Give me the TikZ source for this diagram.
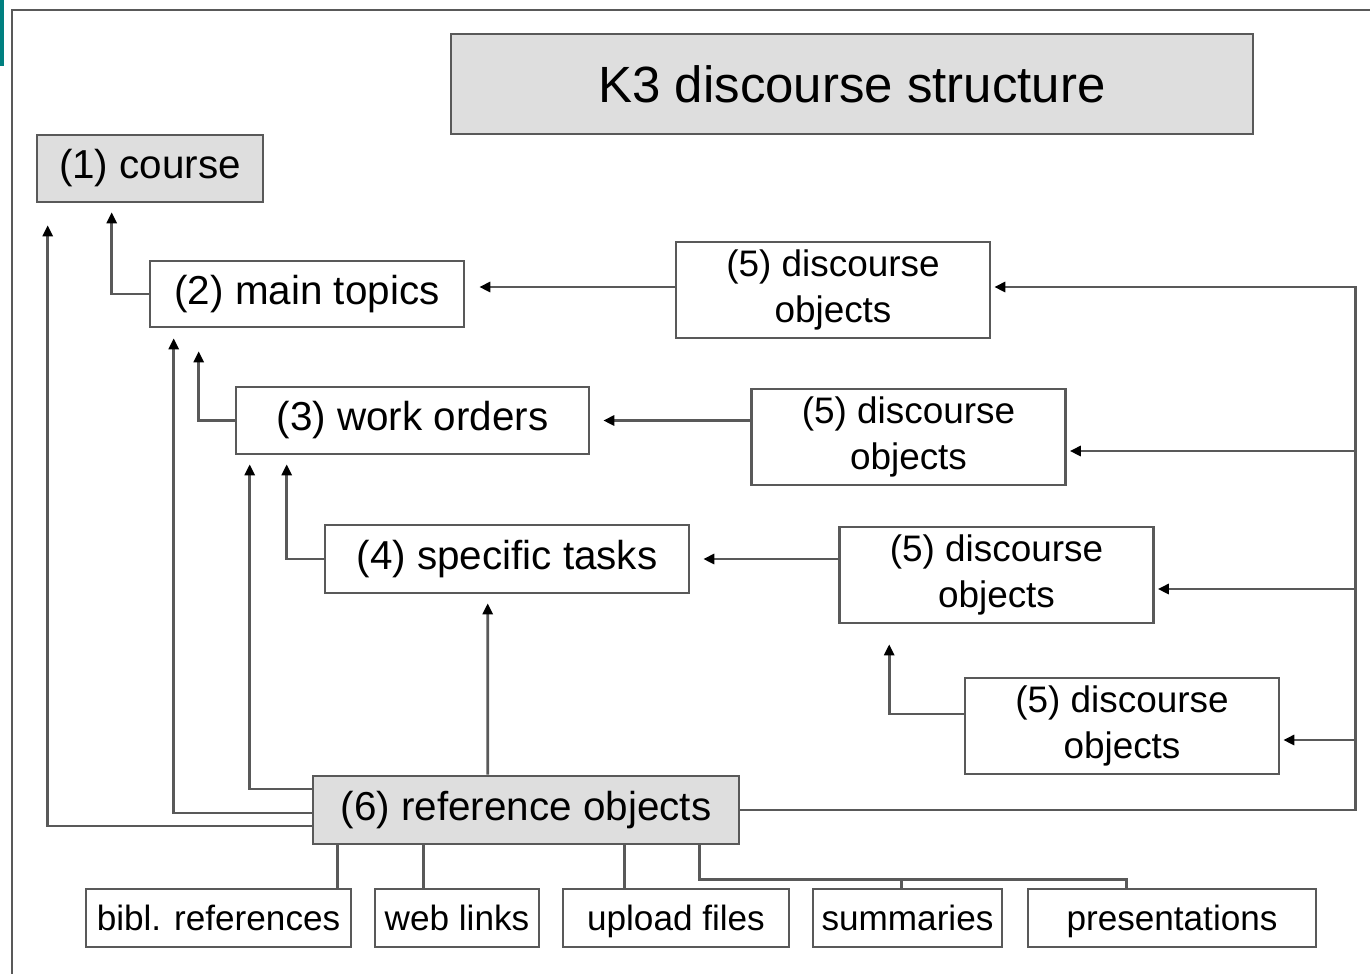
\documentclass[tikz,border=0pt]{standalone}
\usepackage{fontspec}
\setmainfont{Liberation Sans}
\usetikzlibrary{calc,arrows.meta}

\begin{document}
\begin{tikzpicture}[x=0.02cm, y=-0.02cm,
		box/.style={draw=black!65, line width=1.5pt, fill=white, inner sep=0pt, font=\fontsize{23}{28}\selectfont},
		greybox/.style={box, fill=black!13},
		dobj/.style={box, align=center, minimum width=6.28cm, minimum height=1.92cm, font=\fontsize{21}{26}\selectfont},
		leaf/.style={box, minimum height=1.16cm, text height=16pt, text depth=2pt, font=\fontsize{20}{24}\selectfont},
		link/.style={draw=black!65, line width=1.5pt},
		arr/.style={link, -{Triangle[length=0.22cm, width=0.2cm, color=black]}}]
		%%%%% START %%%%%
		
		\useasboundingbox (0,0) rectangle (1370,974);
		\fill[teal] (0,0) rectangle (4,66);
		\draw[black!65, line width=1.5pt] (1370,10) -- (12,10) -- (12,974);
		
		\node[greybox, minimum width=16.04cm, minimum height=2cm, font=\fontsize{29}{34}\selectfont] (title) at (852,84) {K3 discourse structure};
		
		\node[greybox, minimum width=4.52cm, minimum height=1.34cm] (course) at (150,168.5) {(1) course};
		\node[box, minimum width=6.28cm, minimum height=1.32cm] (topics) at (307,294) {(2) main topics};
		\node[box, minimum width=7.06cm, minimum height=1.34cm] (orders) at (412.5,420.5) {(3) work orders};
		\node[box, minimum width=7.28cm, minimum height=1.36cm] (tasks) at (507,559) {(4) specific tasks};
		
		\node[dobj] (objA) at (833,290) {(5) discourse\\objects};
		\node[dobj] (objB) at (908.5,437) {(5) discourse\\objects};
		\node[dobj] (objC) at (996.5,575) {(5) discourse\\objects};
		\node[dobj] (objD) at (1122,726) {(5) discourse\\objects};
		
		\node[greybox, minimum width=8.52cm, minimum height=1.36cm] (refobj) at (526,810) {(6) reference objects};
		
		\node[leaf, minimum width=5.3cm] (bibl) at (218.5,918) {bibl. references};
		\node[leaf, minimum width=3.28cm] (web) at (457,918) {web links};
		\node[leaf, minimum width=4.52cm] (upload) at (676,918) {upload files};
		\node[leaf, minimum width=3.78cm] (summ) at (907.5,918) {summaries};
		\node[leaf, minimum width=5.76cm] (pres) at (1172,918) {presentations};
		
		% up the hierarchy
		\draw[arr, shorten >=0.18cm] (topics.west) -| ($(course.south west)+(76,0)$);
		\draw[arr, shorten >=0.46cm] (orders.west) -| ($(topics.south west)+(50,0)$);
		\draw[arr, shorten >=0.18cm] (tasks.west) -| ($(orders.south west)+(52,0)$);
		
		% reference objects to the levels
		\draw[arr, shorten >=0.44cm] ($(refobj.west)+(0,16)$) -| ($(course.south west)+(12,0)$);
		\draw[arr, shorten >=0.2cm] ($(refobj.west)+(0,3)$) -| ($(topics.south west)+(25,0)$);
		\draw[arr, shorten >=0.18cm] ($(refobj.west)+(0,-21)$) -| ($(orders.south west)+(15,0)$);
		\draw[arr, shorten >=0.18cm] ($(refobj.north west)+(176,0)$) -- ($(tasks.south west)+(164,0)$);
		
		% discourse objects
		\draw[arr, shorten >=0.28cm] ($(objA.west)+(0,-3)$) -- ($(objA.west -| topics.east)+(0,-3)$);
		\draw[arr, shorten >=0.26cm] (orders.east -| objB.west) -- (orders.east);
		\draw[arr, shorten >=0.26cm] (tasks.east -| objC.west) -- (tasks.east);
		\draw[arr, shorten >=0.4cm] ($(objD.west)+(0,-12)$) -| ($(objC.south west)+(51,0)$);
		
		\coordinate (bus) at ($(refobj.east)+(615,0)$);
		\draw[arr, shorten >=0.06cm] (refobj.east) -- (bus) |- ($(objA.east)+(0,-3)$);
		\foreach \o in {B,C,D} {
			\coordinate (in\o) at ($(obj\o.east)+(0,14)$);
			\draw[arr, shorten >=0.06cm] (bus |- in\o) -- (in\o);
		}
		
		% kinds of reference objects
		\draw[link] ($(refobj.south west)+(26,0)$) coordinate (t1) -- (t1 |- bibl.north);
		\draw[link] ($(refobj.south west)+(112,0)$) coordinate (t2) -- (t2 |- web.north);
		\draw[link] ($(refobj.south west)+(313,0)$) coordinate (t3) -- (t3 |- upload.north);
		\draw[link] ($(refobj.south west)+(388,0)$) -- ++(0,34) coordinate (jn) -| ($(pres.north west)+(100,0)$);
		\draw[link] ($(summ.north west)+(90,0)$) coordinate (t5) -- (t5 |- jn);
		
		%%%%% END %%%%%
	\end{tikzpicture}
\end{document}
